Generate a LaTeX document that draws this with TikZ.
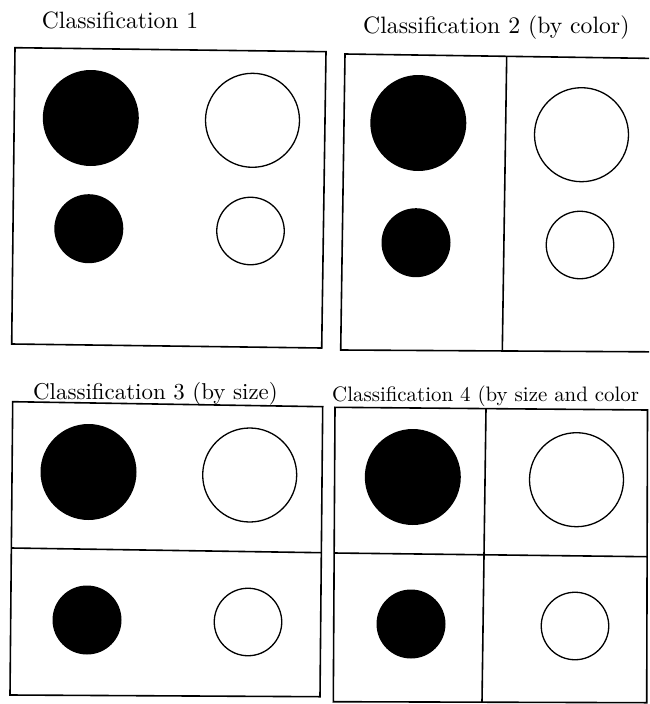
\documentclass[tikz,border=0pt]{standalone}
\usepackage{fontspec}
\begin{document}
\begin{tikzpicture}[x=1pt,y=-1pt,
  frame/.style={line width=1.6pt, line join=miter},
  blk/.style={circle, fill=black, draw=none, inner sep=0pt},
  wht/.style={circle, draw=black, line width=1.3pt, fill=white, inner sep=0pt},
  bigb/.style={blk, minimum size=96pt},
  smallb/.style={blk, minimum size=69pt},
  bigw/.style={wht, minimum size=94pt},
  smallw/.style={wht, minimum size=67.5pt},
  ttl/.style={anchor=base west, inner sep=0pt, font=\fontsize{10}{12}\selectfont}]
\useasboundingbox (0,0) rectangle (649,704);
\clip (0,0) rectangle (649,704);

% ---------- titles ----------
\node[ttl] (t1) at (41.7,28.5) {\scalebox{2.36}{Classification 1}};
\node[ttl] (t2) at (363,33) {\scalebox{2.37}{Classification 2 (by color)}};
\node[ttl] (t3) at (33,399.5) {\scalebox{2.29}{Classification 3 (by size)}};
\node[ttl] (t4) at (332,401.5) {\scalebox{2.09}{Classification 4 (by size and color}};

% ---------- panel 1 ----------
\draw[frame] (15,47.7) -- (326,51.7) -- (321.7,348) -- (11.7,344) -- cycle;
\node[bigb]   (p1bb) at (90.8,118) {};
\node[bigw]   (p1bw) at (252.5,120.3) {};
\node[smallb] (p1sb) at (88.8,228.7) {};
\node[smallw] (p1sw) at (250.5,231) {};

% ---------- panel 2 ----------
\draw[frame] (680,58.8) -- (345,54) -- (340.7,350) -- (680,352);
\draw[frame] (506.7,56.3) -- (502.3,351);
\node[bigb]   (p2bb) at (418.3,123) {};
\node[bigw]   (p2bw) at (581.5,134.7) {};
\node[smallb] (p2sb) at (416,242.7) {};
\node[smallw] (p2sw) at (580,245) {};

% ---------- panel 3 ----------
\draw[frame] (12.7,401.7) -- (322.7,406.7) -- (320,696.7) -- (10,695) -- cycle;
\draw[frame] (11.3,548) -- (321.4,552.7);
\node[bigb]   (p3bb) at (88.5,472) {};
\node[bigw]   (p3bw) at (249.7,475) {};
\node[smallb] (p3sb) at (87,620) {};
\node[smallw] (p3sw) at (248,622) {};

% ---------- panel 4 ----------
\draw[frame] (335,407.3) -- (647.5,410) -- (646.7,702.7) -- (333.3,701.7) -- cycle;
\draw[frame] (486,408.6) -- (482,702.2);
\draw[frame] (334,553) -- (647,556.7);
\node[bigb]   (p4bb) at (412.8,477) {};
\node[bigw]   (p4bw) at (576.5,479.7) {};
\node[smallb] (p4sb) at (411,624) {};
\node[smallw] (p4sw) at (575,626) {};
\end{tikzpicture}
\end{document}
